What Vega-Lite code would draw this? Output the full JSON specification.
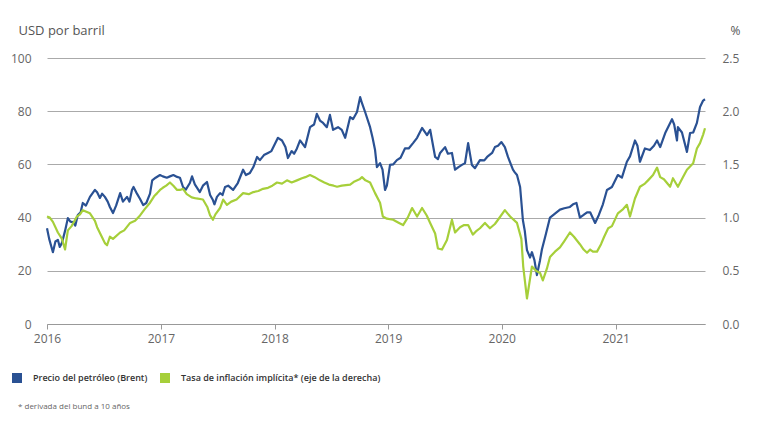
{
  "$schema": "https://vega.github.io/schema/vega-lite/v6.json",
  "width": 658,
  "height": 266,
  "autosize": {"type": "none"},
  "padding": {"left": 47, "top": 58, "right": 75, "bottom": 100},
  "background": "white",
  "config": {"view": {"stroke": null}, "font": "Open Sans"},
  "title": {"text": "* derivada del bund a 10 años", "orient": "bottom", "anchor": "start", "frame": "group", "fontSize": 8, "fontWeight": "normal", "color": "#666666", "dx": -29, "offset": 20},
  "datasets": {
    "brent": [
      {"d": "2016-01-01", "v": 36}, {"d": "2016-01-08", "v": 32}, {"d": "2016-01-20", "v": 27}, {"d": "2016-01-28", "v": 31}, {"d": "2016-02-05", "v": 31.6}, {"d": "2016-02-11", "v": 29},
      {"d": "2016-02-18", "v": 30.5}, {"d": "2016-02-28", "v": 35}, {"d": "2016-03-08", "v": 39.8}, {"d": "2016-03-16", "v": 38.5}, {"d": "2016-03-24", "v": 38.3}, {"d": "2016-04-01", "v": 37},
      {"d": "2016-04-09", "v": 41}, {"d": "2016-04-18", "v": 42}, {"d": "2016-04-25", "v": 45.5}, {"d": "2016-05-05", "v": 44.5}, {"d": "2016-05-18", "v": 47.8}, {"d": "2016-06-03", "v": 50.4},
      {"d": "2016-06-10", "v": 49.5}, {"d": "2016-06-19", "v": 47.4}, {"d": "2016-06-26", "v": 49}, {"d": "2016-07-05", "v": 47.8}, {"d": "2016-07-14", "v": 46}, {"d": "2016-07-21", "v": 44},
      {"d": "2016-07-31", "v": 41.7}, {"d": "2016-08-10", "v": 44.5}, {"d": "2016-08-23", "v": 49.2}, {"d": "2016-09-01", "v": 46}, {"d": "2016-09-14", "v": 47.8}, {"d": "2016-09-22", "v": 46},
      {"d": "2016-09-30", "v": 50.4}, {"d": "2016-10-05", "v": 51.5}, {"d": "2016-10-16", "v": 49}, {"d": "2016-10-26", "v": 47}, {"d": "2016-11-05", "v": 44.7}, {"d": "2016-11-15", "v": 45.5},
      {"d": "2016-11-27", "v": 49}, {"d": "2016-12-04", "v": 54}, {"d": "2016-12-15", "v": 55}, {"d": "2016-12-29", "v": 56},
      {"d": "2017-01-07", "v": 55.5}, {"d": "2017-01-20", "v": 55}, {"d": "2017-01-30", "v": 55.5}, {"d": "2017-02-10", "v": 56}, {"d": "2017-02-22", "v": 55.3}, {"d": "2017-03-03", "v": 55},
      {"d": "2017-03-13", "v": 51.5}, {"d": "2017-03-22", "v": 50.5}, {"d": "2017-04-04", "v": 53}, {"d": "2017-04-11", "v": 55.5}, {"d": "2017-04-20", "v": 52.5}, {"d": "2017-05-06", "v": 49.6},
      {"d": "2017-05-16", "v": 52}, {"d": "2017-05-29", "v": 53.4}, {"d": "2017-06-08", "v": 48.5}, {"d": "2017-06-17", "v": 46.6}, {"d": "2017-06-22", "v": 45}, {"d": "2017-06-30", "v": 47.8},
      {"d": "2017-07-10", "v": 49.2}, {"d": "2017-07-18", "v": 48.5}, {"d": "2017-07-26", "v": 51.5}, {"d": "2017-08-05", "v": 52}, {"d": "2017-08-21", "v": 50.4}, {"d": "2017-09-05", "v": 53},
      {"d": "2017-09-22", "v": 58}, {"d": "2017-10-01", "v": 56}, {"d": "2017-10-14", "v": 56.8}, {"d": "2017-10-25", "v": 59}, {"d": "2017-11-06", "v": 62.8}, {"d": "2017-11-15", "v": 61.6},
      {"d": "2017-11-28", "v": 63.5}, {"d": "2017-12-11", "v": 64.3}, {"d": "2017-12-22", "v": 65},
      {"d": "2018-01-12", "v": 70}, {"d": "2018-01-25", "v": 69}, {"d": "2018-02-05", "v": 66.5}, {"d": "2018-02-13", "v": 62.4}, {"d": "2018-02-25", "v": 65}, {"d": "2018-03-05", "v": 64},
      {"d": "2018-03-14", "v": 66}, {"d": "2018-03-24", "v": 69}, {"d": "2018-04-09", "v": 66.5}, {"d": "2018-04-25", "v": 74}, {"d": "2018-05-08", "v": 75}, {"d": "2018-05-17", "v": 79},
      {"d": "2018-05-27", "v": 76.5}, {"d": "2018-06-06", "v": 75.6}, {"d": "2018-06-18", "v": 74}, {"d": "2018-06-28", "v": 78.6}, {"d": "2018-07-08", "v": 73}, {"d": "2018-07-24", "v": 74},
      {"d": "2018-08-05", "v": 73}, {"d": "2018-08-16", "v": 70}, {"d": "2018-09-01", "v": 77.8}, {"d": "2018-09-10", "v": 77}, {"d": "2018-09-23", "v": 79.7}, {"d": "2018-10-03", "v": 85.3},
      {"d": "2018-10-09", "v": 83}, {"d": "2018-10-19", "v": 79.7}, {"d": "2018-11-04", "v": 74}, {"d": "2018-11-12", "v": 70}, {"d": "2018-11-20", "v": 65.4}, {"d": "2018-11-26", "v": 59},
      {"d": "2018-12-06", "v": 60.5}, {"d": "2018-12-14", "v": 58}, {"d": "2018-12-22", "v": 50.4}, {"d": "2018-12-28", "v": 52},
      {"d": "2019-01-07", "v": 59.8}, {"d": "2019-01-17", "v": 60}, {"d": "2019-01-29", "v": 61.6}, {"d": "2019-02-10", "v": 62.5}, {"d": "2019-02-24", "v": 66}, {"d": "2019-03-08", "v": 66},
      {"d": "2019-03-22", "v": 68}, {"d": "2019-04-04", "v": 70}, {"d": "2019-04-20", "v": 73.7}, {"d": "2019-05-06", "v": 71}, {"d": "2019-05-16", "v": 73}, {"d": "2019-06-01", "v": 62.8},
      {"d": "2019-06-10", "v": 62}, {"d": "2019-06-17", "v": 64.3}, {"d": "2019-07-03", "v": 66.5}, {"d": "2019-07-12", "v": 64}, {"d": "2019-07-25", "v": 64.3}, {"d": "2019-08-04", "v": 58},
      {"d": "2019-08-15", "v": 59}, {"d": "2019-08-26", "v": 59.8}, {"d": "2019-09-05", "v": 60.5}, {"d": "2019-09-15", "v": 68}, {"d": "2019-09-27", "v": 59.8}, {"d": "2019-10-07", "v": 58.6},
      {"d": "2019-10-23", "v": 61.6}, {"d": "2019-11-06", "v": 61.5}, {"d": "2019-11-15", "v": 62.8}, {"d": "2019-12-01", "v": 64.3}, {"d": "2019-12-10", "v": 66.5}, {"d": "2019-12-20", "v": 67},
      {"d": "2019-12-31", "v": 68.4},
      {"d": "2020-01-11", "v": 66.5}, {"d": "2020-01-21", "v": 62.8}, {"d": "2020-02-06", "v": 58}, {"d": "2020-02-12", "v": 57}, {"d": "2020-02-19", "v": 56}, {"d": "2020-02-29", "v": 51.5},
      {"d": "2020-03-09", "v": 39}, {"d": "2020-03-15", "v": 35}, {"d": "2020-03-22", "v": 27.8}, {"d": "2020-04-01", "v": 25}, {"d": "2020-04-07", "v": 27}, {"d": "2020-04-15", "v": 24},
      {"d": "2020-04-23", "v": 18.4}, {"d": "2020-05-03", "v": 24}, {"d": "2020-05-09", "v": 28}, {"d": "2020-05-20", "v": 33}, {"d": "2020-06-04", "v": 40}, {"d": "2020-06-20", "v": 41.5},
      {"d": "2020-07-06", "v": 43}, {"d": "2020-07-20", "v": 43.5}, {"d": "2020-08-07", "v": 44}, {"d": "2020-08-17", "v": 45}, {"d": "2020-08-28", "v": 45.5}, {"d": "2020-09-08", "v": 40},
      {"d": "2020-09-20", "v": 41}, {"d": "2020-10-01", "v": 42}, {"d": "2020-10-11", "v": 42}, {"d": "2020-10-27", "v": 38}, {"d": "2020-11-08", "v": 41}, {"d": "2020-11-21", "v": 45},
      {"d": "2020-12-04", "v": 50.4}, {"d": "2020-12-20", "v": 51.5},
      {"d": "2021-01-08", "v": 56}, {"d": "2021-01-21", "v": 55}, {"d": "2021-02-06", "v": 61}, {"d": "2021-02-16", "v": 63}, {"d": "2021-03-04", "v": 69}, {"d": "2021-03-12", "v": 67},
      {"d": "2021-03-20", "v": 61}, {"d": "2021-04-05", "v": 66}, {"d": "2021-04-21", "v": 65.4}, {"d": "2021-05-04", "v": 67}, {"d": "2021-05-14", "v": 69}, {"d": "2021-05-24", "v": 66.5},
      {"d": "2021-06-10", "v": 72}, {"d": "2021-07-01", "v": 77}, {"d": "2021-07-08", "v": 75}, {"d": "2021-07-17", "v": 69}, {"d": "2021-07-20", "v": 74}, {"d": "2021-08-02", "v": 72},
      {"d": "2021-08-18", "v": 64.7}, {"d": "2021-08-28", "v": 71.8}, {"d": "2021-09-07", "v": 72}, {"d": "2021-09-19", "v": 75.6}, {"d": "2021-09-29", "v": 81.6}, {"d": "2021-10-09", "v": 84},
      {"d": "2021-10-15", "v": 84.5}
    ],
    "bei": [
      {"d": "2016-01-01", "v": 1.01}, {"d": "2016-01-10", "v": 1.0}, {"d": "2016-01-20", "v": 0.96}, {"d": "2016-02-05", "v": 0.86}, {"d": "2016-02-18", "v": 0.8}, {"d": "2016-02-28", "v": 0.7},
      {"d": "2016-03-08", "v": 0.88}, {"d": "2016-03-20", "v": 0.92}, {"d": "2016-04-06", "v": 1.01}, {"d": "2016-04-16", "v": 1.03}, {"d": "2016-04-25", "v": 1.07}, {"d": "2016-05-18", "v": 1.04},
      {"d": "2016-06-03", "v": 0.97}, {"d": "2016-06-10", "v": 0.91}, {"d": "2016-06-25", "v": 0.82}, {"d": "2016-07-05", "v": 0.76}, {"d": "2016-07-12", "v": 0.74}, {"d": "2016-07-21", "v": 0.82},
      {"d": "2016-07-31", "v": 0.8}, {"d": "2016-08-23", "v": 0.86}, {"d": "2016-09-05", "v": 0.88}, {"d": "2016-09-24", "v": 0.95}, {"d": "2016-10-10", "v": 0.97}, {"d": "2016-10-26", "v": 1.02},
      {"d": "2016-11-10", "v": 1.08}, {"d": "2016-11-27", "v": 1.14}, {"d": "2016-12-10", "v": 1.2}, {"d": "2016-12-20", "v": 1.23}, {"d": "2016-12-29", "v": 1.26},
      {"d": "2017-01-07", "v": 1.28}, {"d": "2017-01-18", "v": 1.3}, {"d": "2017-01-30", "v": 1.33}, {"d": "2017-02-10", "v": 1.3}, {"d": "2017-02-22", "v": 1.26}, {"d": "2017-03-03", "v": 1.26},
      {"d": "2017-03-13", "v": 1.27}, {"d": "2017-03-25", "v": 1.22}, {"d": "2017-04-10", "v": 1.19}, {"d": "2017-04-25", "v": 1.18}, {"d": "2017-05-16", "v": 1.17}, {"d": "2017-05-30", "v": 1.1},
      {"d": "2017-06-08", "v": 1.02}, {"d": "2017-06-17", "v": 0.98}, {"d": "2017-06-25", "v": 1.03}, {"d": "2017-07-10", "v": 1.09}, {"d": "2017-07-20", "v": 1.17}, {"d": "2017-08-01", "v": 1.12},
      {"d": "2017-08-15", "v": 1.15}, {"d": "2017-09-01", "v": 1.17}, {"d": "2017-09-22", "v": 1.23}, {"d": "2017-10-10", "v": 1.22}, {"d": "2017-10-25", "v": 1.24}, {"d": "2017-11-10", "v": 1.25},
      {"d": "2017-11-25", "v": 1.27}, {"d": "2017-12-11", "v": 1.28}, {"d": "2017-12-25", "v": 1.3},
      {"d": "2018-01-09", "v": 1.33}, {"d": "2018-01-25", "v": 1.32}, {"d": "2018-02-10", "v": 1.35}, {"d": "2018-02-25", "v": 1.33}, {"d": "2018-03-14", "v": 1.35}, {"d": "2018-03-30", "v": 1.37},
      {"d": "2018-04-10", "v": 1.38}, {"d": "2018-04-25", "v": 1.4}, {"d": "2018-05-10", "v": 1.38}, {"d": "2018-05-27", "v": 1.35}, {"d": "2018-06-10", "v": 1.33}, {"d": "2018-06-25", "v": 1.31},
      {"d": "2018-07-10", "v": 1.3}, {"d": "2018-07-21", "v": 1.29}, {"d": "2018-08-05", "v": 1.3}, {"d": "2018-09-01", "v": 1.31}, {"d": "2018-09-15", "v": 1.34}, {"d": "2018-10-01", "v": 1.36},
      {"d": "2018-10-09", "v": 1.38}, {"d": "2018-10-20", "v": 1.35}, {"d": "2018-11-04", "v": 1.33}, {"d": "2018-11-20", "v": 1.23}, {"d": "2018-12-06", "v": 1.14}, {"d": "2018-12-15", "v": 1.01},
      {"d": "2018-12-28", "v": 0.99},
      {"d": "2019-01-17", "v": 0.98}, {"d": "2019-02-05", "v": 0.95}, {"d": "2019-02-18", "v": 0.93}, {"d": "2019-03-05", "v": 1.0}, {"d": "2019-03-19", "v": 1.09}, {"d": "2019-04-04", "v": 1.01},
      {"d": "2019-04-20", "v": 1.09}, {"d": "2019-05-05", "v": 1.02}, {"d": "2019-05-16", "v": 0.95}, {"d": "2019-06-01", "v": 0.85}, {"d": "2019-06-10", "v": 0.71}, {"d": "2019-06-23", "v": 0.7},
      {"d": "2019-07-09", "v": 0.79}, {"d": "2019-07-25", "v": 0.98}, {"d": "2019-08-04", "v": 0.86}, {"d": "2019-08-20", "v": 0.91}, {"d": "2019-09-02", "v": 0.93}, {"d": "2019-09-15", "v": 0.93},
      {"d": "2019-09-30", "v": 0.84}, {"d": "2019-10-10", "v": 0.87}, {"d": "2019-10-23", "v": 0.9}, {"d": "2019-11-08", "v": 0.95}, {"d": "2019-11-24", "v": 0.9}, {"d": "2019-12-10", "v": 0.94},
      {"d": "2019-12-20", "v": 0.98},
      {"d": "2020-01-11", "v": 1.07}, {"d": "2020-01-28", "v": 1.01}, {"d": "2020-02-19", "v": 0.95}, {"d": "2020-03-04", "v": 0.8}, {"d": "2020-03-10", "v": 0.54}, {"d": "2020-03-22", "v": 0.24},
      {"d": "2020-04-07", "v": 0.54}, {"d": "2020-04-20", "v": 0.5}, {"d": "2020-05-03", "v": 0.48}, {"d": "2020-05-12", "v": 0.41}, {"d": "2020-05-25", "v": 0.52}, {"d": "2020-06-04", "v": 0.63},
      {"d": "2020-06-20", "v": 0.68}, {"d": "2020-07-06", "v": 0.72}, {"d": "2020-07-20", "v": 0.78}, {"d": "2020-08-07", "v": 0.86}, {"d": "2020-08-20", "v": 0.82}, {"d": "2020-09-08", "v": 0.75},
      {"d": "2020-09-20", "v": 0.7}, {"d": "2020-10-01", "v": 0.67}, {"d": "2020-10-11", "v": 0.7}, {"d": "2020-10-20", "v": 0.68}, {"d": "2020-11-02", "v": 0.68}, {"d": "2020-11-15", "v": 0.75},
      {"d": "2020-11-25", "v": 0.82}, {"d": "2020-12-08", "v": 0.9}, {"d": "2020-12-20", "v": 0.92},
      {"d": "2021-01-08", "v": 1.04}, {"d": "2021-01-25", "v": 1.08}, {"d": "2021-02-06", "v": 1.12}, {"d": "2021-02-16", "v": 1.01}, {"d": "2021-03-04", "v": 1.18}, {"d": "2021-03-20", "v": 1.29},
      {"d": "2021-04-05", "v": 1.32}, {"d": "2021-04-15", "v": 1.35}, {"d": "2021-05-01", "v": 1.4}, {"d": "2021-05-14", "v": 1.47}, {"d": "2021-05-24", "v": 1.38}, {"d": "2021-06-05", "v": 1.36},
      {"d": "2021-06-25", "v": 1.29}, {"d": "2021-07-04", "v": 1.37}, {"d": "2021-07-20", "v": 1.29}, {"d": "2021-08-05", "v": 1.38}, {"d": "2021-08-18", "v": 1.45}, {"d": "2021-08-28", "v": 1.48},
      {"d": "2021-09-07", "v": 1.51}, {"d": "2021-09-19", "v": 1.65}, {"d": "2021-09-29", "v": 1.7}, {"d": "2021-10-09", "v": 1.78}, {"d": "2021-10-15", "v": 1.84}
    ]
  },
  "layer": [
    {
      "data": {"name": "brent"},
      "mark": {"type": "line", "strokeWidth": 2.2, "strokeJoin": "round"},
      "encoding": {
        "x": {"field": "d", "type": "temporal", "scale": {"domain": ["2016-01-01", "2021-10-15"]},
          "axis": {"title": null, "format": "%Y", "tickCount": {"interval": "year", "step": 1}, "grid": false, "domainColor": "#999999", "tickColor": "#999999", "tickSize": 5, "labelColor": "#666666", "labelFontSize": 12, "labelPadding": 4, "labelFlush": false}},
        "y": {"field": "v", "type": "quantitative", "scale": {"domain": [0, 100], "nice": false},
          "axis": {"values": [0, 20, 40, 60, 80, 100], "grid": true, "gridColor": "#aaaaaa", "domain": false, "ticks": false, "labelPadding": 16, "labelColor": "#666666", "labelFontSize": 12,
            "title": "USD por barril", "titleAngle": 0, "titleAlign": "left", "titleBaseline": "middle", "titleX": -29, "titleY": -28, "titleFontWeight": "normal", "titleFontSize": 13, "titleColor": "#555555"}},
        "color": {"datum": "Precio del petróleo (Brent)", "type": "nominal",
          "scale": {"domain": ["Precio del petróleo (Brent)", "Tasa de inflación implícita* (eje de la derecha)"], "range": ["#2a5193", "#a6cf3a"]},
          "legend": {"title": null, "orient": "none", "legendX": -35, "legendY": 315, "direction": "horizontal", "symbolType": "square", "symbolSize": 100, "symbolStrokeWidth": 0,
            "labelFontSize": 9, "labelFontWeight": 600, "labelColor": "#333333", "labelOffset": 11, "columnPadding": 12, "labelLimit": 400,
            "encode": {"symbols": {"update": {"fill": {"scale": "color", "field": "value"}, "strokeWidth": {"value": 0}}}}}}
      }
    },
    {
      "data": {"name": "bei"},
      "mark": {"type": "line", "strokeWidth": 2.2, "strokeJoin": "round"},
      "encoding": {
        "x": {"field": "d", "type": "temporal"},
        "y": {"field": "v", "type": "quantitative", "scale": {"domain": [0, 2.5], "nice": false},
          "axis": {"orient": "right", "values": [0, 0.5, 1, 1.5, 2, 2.5], "format": ".1f", "grid": false, "domain": false, "ticks": false, "labelPadding": 17, "labelColor": "#666666", "labelFontSize": 12,
            "title": "%", "titleAngle": 0, "titleAlign": "center", "titleBaseline": "middle", "titleX": 30, "titleY": -28, "titleFontWeight": "normal", "titleFontSize": 12, "titleColor": "#555555"}},
        "color": {"datum": "Tasa de inflación implícita* (eje de la derecha)", "type": "nominal"}
      }
    }
  ],
  "resolve": {"scale": {"y": "independent"}}
}
